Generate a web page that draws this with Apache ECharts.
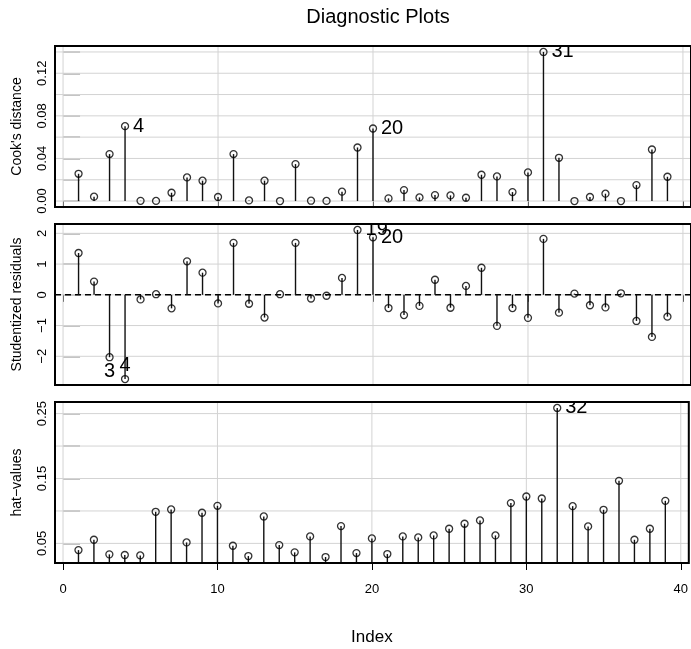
<!DOCTYPE html>
<html><head><meta charset="utf-8">
<script src="https://cdn.jsdelivr.net/npm/echarts@6/dist/echarts.min.js"></script>
<style>html,body{margin:0;padding:0;background:#fff}#c{width:691px;height:649px}</style>
</head><body><div id="c"></div>
<script>
const obsIndex = [1,2,3,4,5,6,7,8,9,10,11,12,13,14,15,16,17,18,19,20,21,22,23,24,25,26,27,28,29,30,31,32,33,34,35,36,37,38,39];
const cooksDistance = [0.0256,0.0041,0.0441,0.0703,0.0002,0.0001,0.0078,0.0222,0.0191,0.0038,0.0441,0.0006,0.0191,0.0000,0.0347,0.0003,0.0001,0.0088,0.0503,0.0681,0.0025,0.0103,0.0034,0.0056,0.0053,0.0031,0.0247,0.0231,0.0084,0.0269,0.1400,0.0406,0.0000,0.0038,0.0069,0.0000,0.0150,0.0484,0.0228];
const studentizedResiduals = [1.36,0.43,-2.03,-2.74,-0.15,0.02,-0.44,1.09,0.72,-0.28,1.69,-0.29,-0.74,0.02,1.69,-0.12,-0.03,0.55,2.11,1.87,-0.43,-0.66,-0.36,0.49,-0.42,0.29,0.88,-1.01,-0.43,-0.75,1.82,-0.58,0.04,-0.34,-0.41,0.05,-0.85,-1.37,-0.71];
const hatValues = [0.0397,0.0556,0.0331,0.0321,0.0315,0.0987,0.1023,0.0515,0.0972,0.1079,0.0464,0.0305,0.0915,0.0474,0.0362,0.0608,0.0290,0.0767,0.0351,0.0577,0.0336,0.0608,0.0592,0.0623,0.0726,0.0803,0.0854,0.0623,0.1121,0.1223,0.1192,0.2587,0.1074,0.0762,0.1018,0.1464,0.0556,0.0726,0.1156];
const cooksLabelIdx = [4,20,31];
const studLabelIdx = [3,4,19,20];
const hatLabelIdx = [32];
const xTicks = [0,10,20,30,40];
const cooksTicks = [0,0.02,0.04,0.06,0.08,0.10,0.12,0.14];
const cooksTickLabels = [0,0.04,0.08,0.12];
const studTicks = [-2,-1,0,1,2];
const hatTicks = [0.05,0.10,0.15,0.20,0.25];
const hatTickLabels = [0.05,0.15,0.25];
const studRefLine = [0];

const FONT = "'Liberation Sans', Arial, sans-serif";
const labelPlacement = {
  cook: {4:'right',20:'right',31:'right'},
  stud: {3:'below',4:'above',19:'right',20:'right'},
  hat: {32:'right'}
};

function pairs(vals){ return obsIndex.map((x,i)=>[x, vals[i]]); }

const grids = [
  {left:55, top:46, width:637, height:161},
  {left:55, top:224, width:637, height:161},
  {left:55, top:402, width:637, height:161}
].map(g=>Object.assign(g,{show:true, borderColor:'#000', borderWidth:2, backgroundColor:'transparent', z:5}));

function xAxisCfg(i, showLabels){
  return {
    type:'value', gridIndex:i, min:-0.52, max:40.52, position:'bottom',
    axisLine:{show:false},
    splitLine:{show:false},
    axisTick:{show:true, customValues:xTicks, length:7, inside:false, lineStyle:{color:'#000', width:1}},
    axisLabel:{show:showLabels, customValues:xTicks, margin:20, fontSize:13, color:'#000', fontFamily:FONT},
    name: showLabels ? 'Index' : '', nameLocation:'middle', nameGap:66,
    nameTextStyle:{fontSize:17, color:'#000', fontFamily:FONT}
  };
}
function yAxisCfg(i, min, max, ticks, labels, fmt, name){
  return {
    type:'value', gridIndex:i, min:min, max:max,
    axisLine:{show:false},
    splitLine:{show:false},
    axisTick:{show:true, customValues:ticks, inside:true, length:17, lineStyle:{color:'#c4c4c4', width:2}},
    axisLabel:{show:true, customValues:labels, rotate:90, margin:6, fontSize:13, color:'#000', fontFamily:FONT, formatter:fmt},
    name:name, nameLocation:'middle', nameRotate:90, nameGap:31,
    nameTextStyle:{fontSize:14, color:'#000', fontFamily:FONT}
  };
}

function hGridSeries(i, vals){
  return {type:'custom', xAxisIndex:i, yAxisIndex:i, z:1, silent:true, clip:true,
    data: vals.map(v=>[0,v]),
    renderItem:function(params, api){
      const cs = params.coordSys; const y = api.coord([0, api.value(1)])[1];
      return {type:'line', shape:{x1:cs.x, y1:y, x2:cs.x+cs.width, y2:y}, style:{stroke:'#d3d3d3', lineWidth:1}};
    }};
}
function vGridSeries(i){
  return {type:'custom', xAxisIndex:i, yAxisIndex:i, z:1, silent:true, clip:true,
    data: xTicks.map(v=>[v,0]),
    renderItem:function(params, api){
      const cs = params.coordSys; const x = api.coord([api.value(0), 0])[0];
      return {type:'line', shape:{x1:x, y1:cs.y, x2:x, y2:cs.y+cs.height}, style:{stroke:'#d3d3d3', lineWidth:1}};
    }};
}
function refLineSeries(i){
  return {type:'custom', xAxisIndex:i, yAxisIndex:i, z:3, silent:true, clip:true,
    data: studRefLine.map(v=>[0,v]),
    renderItem:function(params, api){
      const cs = params.coordSys; const y = api.coord([0, api.value(1)])[1];
      return {type:'line', shape:{x1:cs.x, y1:y, x2:cs.x+cs.width, y2:y}, style:{stroke:'#000', lineWidth:1.5, lineDash:[6,4]}};
    }};
}
function stemSeries(i, vals){
  return {type:'custom', xAxisIndex:i, yAxisIndex:i, z:3, silent:true, clip:true,
    data: pairs(vals),
    renderItem:function(params, api){
      const cs = params.coordSys;
      const p0 = api.coord([api.value(0), 0]);
      const p1 = api.coord([api.value(0), api.value(1)]);
      const y0 = Math.min(p0[1], cs.y + cs.height);
      return {type:'line', shape:{x1:p0[0], y1:y0, x2:p1[0], y2:p1[1]}, style:{stroke:'#111', lineWidth:1.4}};
    }};
}
function pointSeries(i, vals){
  return {type:'scatter', xAxisIndex:i, yAxisIndex:i, z:4, silent:true,
    data: pairs(vals), symbol:'circle', symbolSize:7,
    itemStyle:{color:'rgba(255,255,255,0)', borderColor:'#000', borderWidth:1.3}};
}
function labelSeries(i, vals, idxs, placement){
  return {type:'custom', xAxisIndex:i, yAxisIndex:i, z:6, silent:true, clip:true,
    data: idxs.map(k=>[k, vals[k-1]]),
    renderItem:function(params, api){
      const cs = params.coordSys;
      const k = api.value(0);
      const p = api.coord([k, api.value(1)]);
      const pos = placement[k];
      let dx=0, dy=0, align='center', va='middle';
      if (pos==='right'){ dx=8; align='left'; }
      else if (pos==='below'){ dy=4; va='top'; }
      else if (pos==='above'){ dy=-4; va='bottom'; }
      return {type:'group',
        clipPath:{type:'rect', shape:{x:cs.x+1, y:cs.y+1, width:cs.width-2, height:cs.height-2}},
        children:[{type:'text', x:p[0]+dx, y:p[1]+dy,
          style:{text:String(k), fill:'#000', font:'20px ' + FONT, align:align, verticalAlign:va}}]};
    }};
}

const option = {
  animation:false,
  backgroundColor:'#fff',
  title:{text:'Diagnostic Plots', left:373, top:2, textAlign:'center',
    textStyle:{fontSize:20, fontWeight:'normal', color:'#000', fontFamily:FONT}},
  grid: grids,
  xAxis:[xAxisCfg(0,false), xAxisCfg(1,false), xAxisCfg(2,true)],
  yAxis:[
    yAxisCfg(0, -0.0056, 0.1456, cooksTicks, cooksTickLabels, v=>v.toFixed(2), "Cook's distance"),
    yAxisCfg(1, -2.934, 2.304, studTicks, studTicks, v=>String(Math.round(v)).replace('-', '\u2212'), 'Studentized residuals'),
    yAxisCfg(2, 0.0198, 0.2679, hatTicks, hatTickLabels, v=>v.toFixed(2), 'hat\u2212values')
  ],
  series:[
    hGridSeries(0, cooksTicks), vGridSeries(0), stemSeries(0, cooksDistance), pointSeries(0, cooksDistance),
    labelSeries(0, cooksDistance, cooksLabelIdx, labelPlacement.cook),
    hGridSeries(1, studTicks), vGridSeries(1), refLineSeries(1), stemSeries(1, studentizedResiduals), pointSeries(1, studentizedResiduals),
    labelSeries(1, studentizedResiduals, studLabelIdx, labelPlacement.stud),
    hGridSeries(2, hatTicks), vGridSeries(2), stemSeries(2, hatValues), pointSeries(2, hatValues),
    labelSeries(2, hatValues, hatLabelIdx, labelPlacement.hat)
  ]
};
const chart = echarts.init(document.getElementById('c'), null, {renderer:'canvas'});
chart.setOption(option);
</script>
</body></html>
